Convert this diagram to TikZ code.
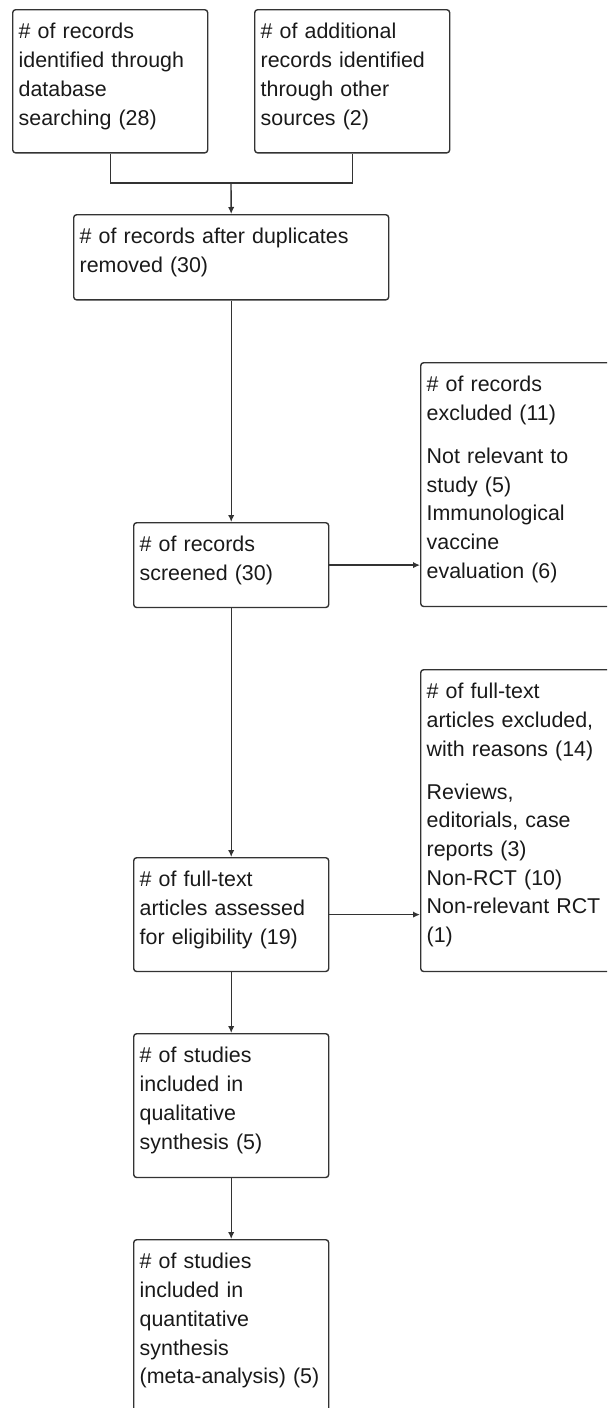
\documentclass[tikz,border=0pt]{standalone}
\usepackage{fontspec}
\setmainfont{Liberation Sans}
\usetikzlibrary{arrows.meta}

\begin{document}
\begin{tikzpicture}[x=0.5pt, y=-0.5pt,
        stage/.style={draw=black!80, line width=0.7pt, rounded corners=1.5pt, anchor=north west,
            align=left, inner xsep=3pt, inner ysep=0pt, text width=91.5pt, text height=14.6pt,
            font=\fontsize{10.7pt}{14.35pt}\selectfont, text=black!90},
        flow/.style={draw=black!80, line width=0.7pt, -{Latex[length=3.5pt,width=3.2pt]}}]

            \useasboundingbox (0,0) rectangle (607,1408);
            \clip (0,0) rectangle (607,1408);

            % Identification
            \node[stage, text depth=57pt] (ident) at (12,9) {\# of records\\identified through\\database\\searching (28)};
            \node[stage, text depth=57pt] (other) at (254,9) {\# of additional\\records identified\\through other\\sources (2)};
            \coordinate (merge) at (231,183);
            \draw[draw=black!80, line width=0.7pt] (ident.south) |- (merge) -| (other.south);

            % Duplicates removed
            \node[stage, text width=151.5pt, text depth=28pt] (dedup) at (73,214) {\# of records after duplicates\\removed (30)};
            \draw[flow] (merge) -- (dedup.north);

            % Screening
            \node[stage, text depth=27.8pt] (screen) at (133,522) {\# of records\\screened (30)};
            \node[stage, text width=94pt, text depth=107.3pt] (excl) at (420,362) {\# of records\\excluded (11)\\[7pt]Not relevant to\\study (5)\\Immunological\\vaccine\\evaluation (6)};
            \draw[flow] (dedup.south) -- (screen.north);
            \draw[flow] (screen.east) -- (screen.east -| excl.west);

            % Eligibility
            \node[stage, text depth=42.3pt] (fulltext) at (133,857) {\# of full-text\\articles assessed\\for eligibility (19)};
            \node[stage, text width=94pt, text depth=136.3pt] (ftexcl) at (420,669) {\# of full-text\\articles excluded,\\with reasons (14)\\[7pt]Reviews,\\editorials, case\\reports (3)\\Non-RCT (10)\\Non-relevant RCT\\(1)};
            \draw[flow] (screen.south) -- (fulltext.north);
            \draw[flow] (fulltext.east) -- (fulltext.east -| ftexcl.west);

            % Included
            \node[stage, text depth=57.3pt] (qual) at (133,1033) {\# of studies\\included in\\qualitative\\synthesis (5)};
            \node[stage, text depth=75pt] (quant) at (133,1239) {\# of studies\\included in\\quantitative\\synthesis\\(meta-analysis) (5)};
            \draw[flow] (fulltext.south) -- (qual.north);
            \draw[flow] (qual.south) -- (quant.north);
        \end{tikzpicture}
\end{document}
